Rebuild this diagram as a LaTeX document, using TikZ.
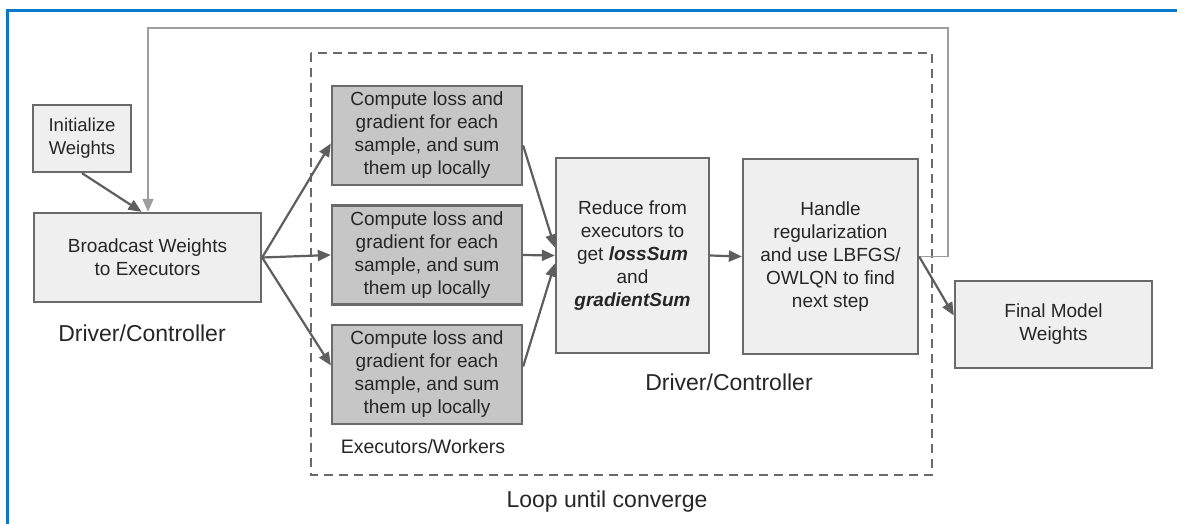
\documentclass[tikz,border=0pt]{standalone}
\usepackage{fontspec}
\setmainfont{Liberation Sans}
\usetikzlibrary{arrows.meta,calc}
\definecolor{frameblue}{HTML}{0B78C9}
\definecolor{boxline}{HTML}{6A6A6A}
\definecolor{lightfill}{HTML}{EFEFEF}
\definecolor{darkfill}{HTML}{C6C6C6}
\definecolor{txt}{HTML}{262626}
\definecolor{arrowgray}{HTML}{5E5E5E}
\begin{document}
\begin{tikzpicture}[x=1pt,y=-1pt,
  box/.style={draw=boxline,line width=2.3pt,fill=lightfill,inner sep=0pt,align=center,text=txt,
    font=\fontsize{19}{23}\selectfont},
  cbox/.style={box,fill=darkfill},
  conn/.style={draw=arrowgray,line width=2.2pt,-{Triangle[length=13pt,width=11pt]}},
  lbl/.style={text=txt,inner sep=0pt}
]
\useasboundingbox (0,0) rectangle (1177,524);
\fill[white] (0,0) rectangle (1177,524);
% blue frame
\draw[frameblue,line width=3pt] (7,524) -- (7,11) -- (1177,11);
% dashed loop region
\draw[boxline,line width=2pt,dash pattern=on 9pt off 6pt] (311,53) rectangle (932,475);

\node[box,minimum width=98pt,minimum height=67pt,font=\fontsize{18.5}{23}\selectfont] (init) at (82,138.5) {Initialize\\Weights};
\node[box,minimum width=227pt,minimum height=89pt] (bcast) at (147.5,257.5) {Broadcast Weights\\to Executors};
\node[lbl,font=\fontsize{23}{27}\selectfont] (dc1) at (142,333) {Driver/Controller};

\node[cbox,minimum width=190pt,minimum height=99pt] (c1) at (427,135.5) {Compute loss and\\gradient for each\\sample, and sum\\them up locally};
\node[cbox,minimum width=190pt,minimum height=99pt] (c2) at (427,255) {Compute loss and\\gradient for each\\sample, and sum\\them up locally};
\node[cbox,minimum width=190pt,minimum height=99pt] (c3) at (427,374.5) {Compute loss and\\gradient for each\\sample, and sum\\them up locally};
\node[lbl,font=\fontsize{19.5}{23}\selectfont] (ew) at (423,447) {Executors/Workers};

\node[box,minimum width=153pt,minimum height=195pt] (reduce) at (632.5,255.5) {Reduce from\\executors to\\get \textbf{\textit{lossSum}}\\and\\\textbf{\textit{gradientSum}}};
\node[box,minimum width=175pt,minimum height=195pt] (handle) at (830.5,256.5) {Handle\\regularization\\and use LBFGS/\\OWLQN to find\\next step};
\node[lbl,font=\fontsize{23}{27}\selectfont] (dc2) at (729,382) {Driver/Controller};

\node[box,minimum width=197pt,minimum height=87pt] (final) at (1053.5,324.5) {Final Model\\Weights};
\node[lbl,font=\fontsize{23}{27}\selectfont] (loop) at (607,502) {Loop until converge};

\coordinate (fbR) at (948,28);
\coordinate (fbL) at (148,28);

% connectors
\draw[conn] (init.south) -- ([xshift=-6pt]bcast.north);
\draw[conn,draw=boxline!65,line width=1.6pt] (handle.east) -| (fbR) -- (fbL) -- (bcast.north -| fbL);
\draw[conn] (bcast.east) -- ([yshift=-8pt]c1.west);
\draw[conn] (bcast.east) -- (c2.west);
\draw[conn] (bcast.east) -- ([yshift=9pt]c3.west);
\draw[conn] ([yshift=-10pt]c1.east) -- ([yshift=8pt]reduce.west);
\draw[conn] (c2.east) -- (reduce.west);
\draw[conn] ([yshift=8pt]c3.east) -- ([yshift=-8pt]reduce.west);
\draw[conn] (reduce.east) -- (handle.east -| handle.west);
\draw[conn] (handle.east) -- ([yshift=9pt]final.west);
\end{tikzpicture}
\end{document}
